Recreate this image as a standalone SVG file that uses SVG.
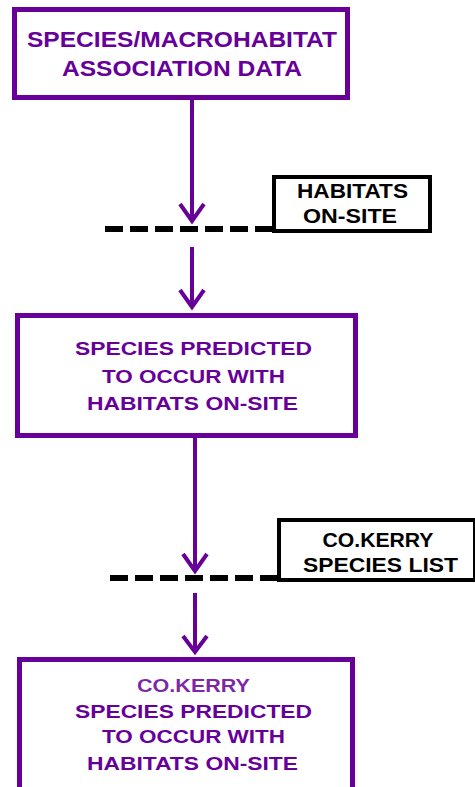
<svg xmlns="http://www.w3.org/2000/svg" width="475" height="787" viewBox="0 0 475 787">
<style>
.pbox{fill:#fff;stroke:#660099;stroke-width:5}
.kbox{fill:#fff;stroke:#000;stroke-width:4}
.pt{font-family:"Liberation Sans",Arial,sans-serif;font-weight:bold;fill:#660099;text-anchor:middle}
.kt{font-family:"Liberation Sans",Arial,sans-serif;font-weight:bold;fill:#000;text-anchor:middle;font-size:21px}
.arr{stroke:#660099;stroke-width:4;fill:none}
.dash{stroke:#000;stroke-width:6;stroke-dasharray:18 7;fill:none}
</style>
<rect width="475" height="787" fill="#fff"/>
<g id="connectors">
<line class="arr" x1="192" y1="99" x2="192" y2="221"/>
<polyline class="arr" points="180,204 192,221 204,204"/>
<line class="dash" x1="105" y1="229" x2="272" y2="229"/>
<line class="arr" x1="192" y1="247" x2="192" y2="307"/>
<polyline class="arr" points="180,290 192,307 204,290"/>
<line class="arr" x1="195" y1="438" x2="195" y2="571"/>
<polyline class="arr" points="183,554 195,571 207,554"/>
<line class="dash" x1="110" y1="578" x2="277" y2="578"/>
<line class="arr" x1="195" y1="593" x2="195" y2="652"/>
<polyline class="arr" points="183,636 195,652 207,636"/>
</g>
<g id="n1">
<rect class="pbox" x="14.5" y="9.5" width="333" height="88"/>
<text class="pt" font-size="22" x="182" y="47" textLength="310" lengthAdjust="spacingAndGlyphs">SPECIES/MACROHABITAT</text>
<text class="pt" font-size="22" x="182" y="76" textLength="240" lengthAdjust="spacingAndGlyphs">ASSOCIATION DATA</text>
</g>
<g id="n_habitats">
<rect class="kbox" x="274" y="177" width="156" height="54"/>
<text class="kt" x="352.5" y="198" textLength="111" lengthAdjust="spacingAndGlyphs">HABITATS</text>
<text class="kt" x="350" y="223" textLength="94" lengthAdjust="spacingAndGlyphs">ON-SITE</text>
</g>
<g id="n2">
<rect class="pbox" x="17.5" y="315.5" width="338" height="120"/>
<text class="pt" font-size="19" x="193.5" y="355" textLength="237" lengthAdjust="spacingAndGlyphs">SPECIES PREDICTED</text>
<text class="pt" font-size="19" x="193.5" y="383" textLength="183" lengthAdjust="spacingAndGlyphs">TO OCCUR WITH</text>
<text class="pt" font-size="19" x="192.5" y="410" textLength="211" lengthAdjust="spacingAndGlyphs">HABITATS ON-SITE</text>
</g>
<g id="n_kerry">
<rect class="kbox" x="279" y="520" width="196" height="60"/>
<text class="kt" x="378" y="547" textLength="111" lengthAdjust="spacingAndGlyphs">CO.KERRY</text>
<text class="kt" x="380.5" y="572" textLength="155" lengthAdjust="spacingAndGlyphs">SPECIES LIST</text>
</g>
<g id="n3">
<rect class="pbox" x="19.5" y="659.5" width="333" height="150"/>
<text class="pt" font-size="19" x="193.5" y="692" fill-opacity="0.85" textLength="113" lengthAdjust="spacingAndGlyphs">CO.KERRY</text>
<text class="pt" font-size="19" x="193.5" y="718" textLength="237" lengthAdjust="spacingAndGlyphs">SPECIES PREDICTED</text>
<text class="pt" font-size="19" x="193.5" y="743" textLength="183" lengthAdjust="spacingAndGlyphs">TO OCCUR WITH</text>
<text class="pt" font-size="19" x="192.5" y="770" textLength="211" lengthAdjust="spacingAndGlyphs">HABITATS ON-SITE</text>
</g>
</svg>
